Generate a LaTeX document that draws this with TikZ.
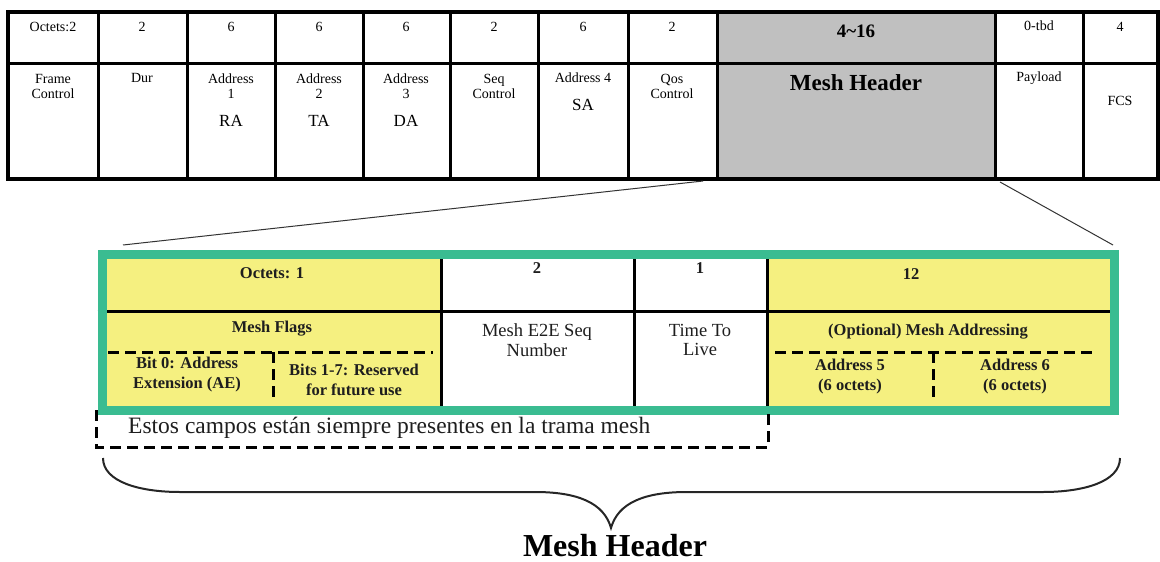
\documentclass[tikz,border=0pt]{standalone}
\usepackage{fontspec}
\setmainfont{Liberation Serif}
\usetikzlibrary{calc}
\definecolor{meshgreen}{RGB}{58,188,145}
\definecolor{meshyellow}{RGB}{245,240,128}
\definecolor{meshgrey}{RGB}{192,192,192}
\definecolor{inkc}{RGB}{30,30,30}
\newcommand\fsz[2]{\fontsize{#1}{#2}\selectfont}
\begin{document}
\begin{tikzpicture}[x=1pt,y=-1pt,
  cell/.style={draw, line width=3pt, inner sep=0pt, outer sep=0pt, anchor=north west},
  fillcell/.style={inner sep=0pt, outer sep=0pt, anchor=north west},
  small/.style={font=\fsz{14}{15}, align=center, inner sep=0pt, text=black},
  mid/.style={font=\fsz{17}{18}, align=center, inner sep=0pt, text=black},
  lbold/.style={font=\bfseries\fsz{16.5}{20}, align=center, inner sep=0pt, text=inkc},
  lreg/.style={font=\fsz{18.5}{19.5}, align=center, inner sep=0pt, text=inkc},
  dashln/.style={line width=3pt, dash pattern=on 11pt off 6pt, black},
  guide/.style={line width=1pt, black!80}
]
\useasboundingbox (0,0) rectangle (1160,562);

% ---------- top table ----------
\node[cell, minimum width=90pt, minimum height=51pt] (a1) at (8,12) {};
\node[cell, minimum width=89pt, minimum height=51pt] (a2) at (98,12) {};
\node[cell, minimum width=88pt, minimum height=51pt] (a3) at (187,12) {};
\node[cell, minimum width=88pt, minimum height=51pt] (a4) at (275,12) {};
\node[cell, minimum width=87pt, minimum height=51pt] (a5) at (363,12) {};
\node[cell, minimum width=88pt, minimum height=51pt] (a6) at (450,12) {};
\node[cell, minimum width=90pt, minimum height=51pt] (a7) at (538,12) {};
\node[cell, minimum width=89pt, minimum height=51pt] (a8) at (628,12) {};
\node[cell, fill=meshgrey, minimum width=278pt, minimum height=51pt] (a9) at (717,12) {};
\node[cell, minimum width=88pt, minimum height=51pt] (a10) at (995,12) {};
\node[cell, minimum width=75pt, minimum height=51pt] (a11) at (1083,12) {};

\node[cell, minimum width=90pt, minimum height=116pt] (b1) at (8,63) {};
\node[cell, minimum width=89pt, minimum height=116pt] (b2) at (98,63) {};
\node[cell, minimum width=88pt, minimum height=116pt] (b3) at (187,63) {};
\node[cell, minimum width=88pt, minimum height=116pt] (b4) at (275,63) {};
\node[cell, minimum width=87pt, minimum height=116pt] (b5) at (363,63) {};
\node[cell, minimum width=88pt, minimum height=116pt] (b6) at (450,63) {};
\node[cell, minimum width=90pt, minimum height=116pt] (b7) at (538,63) {};
\node[cell, minimum width=89pt, minimum height=116pt] (b8) at (628,63) {};
\node[cell, fill=meshgrey, minimum width=278pt, minimum height=116pt] (b9) at (717,63) {};
\node[cell, minimum width=88pt, minimum height=116pt] (b10) at (995,63) {};
\node[cell, minimum width=75pt, minimum height=116pt] (b11) at (1083,63) {};
\draw[line width=3.5pt] (a1.north west) rectangle (b11.south east);

% top row labels
\node[small] (o1) at (53,27) {Octets:2};
\node[small] (o2) at (142,27) {2};
\node[small] (o3) at (231,27) {6};
\node[small] (o4) at (319,27) {6};
\node[small] (o5) at (406,27) {6};
\node[small] (o6) at (494,27) {2};
\node[small] (o7) at (583,27) {6};
\node[small] (o8) at (672,27) {2};
\node[font=\bfseries\fsz{19}{20}, inner sep=0pt] (o9) at (856,31) {4\char`\~16};
\node[small] (o10) at (1039,26) {0-tbd};
\node[small] (o11) at (1120,27) {4};

% second row labels
\node[small] (n1) at (53,86) {Frame\\Control};
\node[small] (n2) at (142,78) {Dur};
\node[small] (n3) at (231,86) {Address\\1};
\node[mid] (r3) at (231,121) {RA};
\node[small] (n4) at (319,86) {Address\\2};
\node[mid] (r4) at (319,121) {TA};
\node[small] (n5) at (406,86) {Address\\3};
\node[mid] (r5) at (406,121) {DA};
\node[small] (n6) at (494,86) {Seq\\Control};
\node[small] (n7) at (583,78) {Address 4};
\node[mid] (r7) at (583,105) {SA};
\node[small] (n8) at (672,86) {Qos\\Control};
\node[font=\bfseries\fsz{23}{24}, inner sep=0pt] (n9) at (856,83) {Mesh Header};
\node[small] (n10) at (1039,78) {Payload};
\node[small] (n11) at (1120,101) {FCS};

% ---------- lower table ----------
\node[fillcell, fill=meshyellow, minimum width=343.5pt, minimum height=156pt] (f1) at (97.5,250) {};
\node[fillcell, fill=white, minimum width=193pt, minimum height=156pt] (f2) at (441,250) {};
\node[fillcell, fill=white, minimum width=133pt, minimum height=156pt] (f3) at (634,250) {};
\node[fillcell, fill=meshyellow, minimum width=343pt, minimum height=156pt] (f4) at (767,250) {};

\coordinate (hl) at (97.5,311);
\coordinate (hr) at (1110,311);
\draw[line width=3pt] (hl) -- (hr);
\draw[line width=3pt] (f1.north east) -- (f1.south east);
\draw[line width=3pt] (f2.north east) -- (f2.south east);
\draw[line width=3pt] (f3.north east) -- (f3.south east);

% dashed sub-divisions
\coordinate (d1a) at (108,352);
\coordinate (d1b) at (433,352);
\coordinate (d1c) at (273,352);
\coordinate (d1d) at (273,397);
\coordinate (d2a) at (775,352);
\coordinate (d2b) at (1098,352);
\coordinate (d2c) at (933,352);
\coordinate (d2d) at (933,397);
\draw[dashln] (d1a) -- (d1b);
\draw[dashln] (d1c) -- (d1d);
\draw[dashln] (d2a) -- (d2b);
\draw[dashln] (d2c) -- (d2d);

% green border
\node[draw=meshgreen, line width=9pt, inner sep=0pt, anchor=north west, minimum width=1012.5pt, minimum height=156pt] (gb) at (97.5,250) {};

% lower labels
\node[lbold] (l1) at (272,273) {Octets: 1};
\node[lbold] (l2) at (537,268) {2};
\node[lbold] (l3) at (700,268) {1};
\node[lbold] (l4) at (911,274) {12};
\node[lbold] (m1) at (272,329) {Mesh Flags};
\node[lreg] (m2) at (537,340) {Mesh E2E Seq\\Number};
\node[lreg] (m3) at (700,340) {Time To\\Live};
\node[lbold] (m4) at (928,332) {(Optional) Mesh Addressing};
\node[lbold] (s1) at (187,375) {Bit 0: Address\\Extension (AE)};
\node[lbold] (s2) at (354,380) {Bits 1-7: Reserved\\for future use};
\node[lbold] (s3) at (850,377) {Address 5\\(6 octets)};
\node[lbold] (s4) at (1015,377) {Address 6\\(6 octets)};

% dashed note box
\coordinate (nb1) at (96,410);
\coordinate (nb2) at (96,447);
\coordinate (nb3) at (768,447);
\coordinate (nb4) at (768,410);
\draw[dashln] (nb1) -- (nb2) -- (nb3) -- (nb4);
\node[font=\fsz{23.5}{24}, inner sep=0pt, anchor=west, text=inkc] (note) at (128,428) {Estos campos están siempre presentes en la trama mesh};

% guide lines from top table to lower table
\coordinate (g1) at (703,181);
\coordinate (g2) at (123,245);
\coordinate (g3) at (1000,182);
\coordinate (g4) at (1113,245);
\draw[guide] (g1) -- (g2);
\draw[guide] (g3) -- (g4);

% brace
\coordinate (br1) at (103,458);
\coordinate (br2) at (1120,458);
\coordinate (brtip) at (611,528);
\draw[line width=2pt, black!85] (br1) .. controls (103,482) and (140,492) .. (180,492) -- (535,492)
  .. controls (578,492) and (604,503) .. (brtip)
  .. controls (618,503) and (644,492) .. (687,492) -- (1043,492)
  .. controls (1083,492) and (1120,482) .. (br2);
\node[font=\bfseries\fsz{32}{34}, inner sep=0pt, anchor=base] (mhl) at (615,556) {Mesh Header};
\end{tikzpicture}
\end{document}
